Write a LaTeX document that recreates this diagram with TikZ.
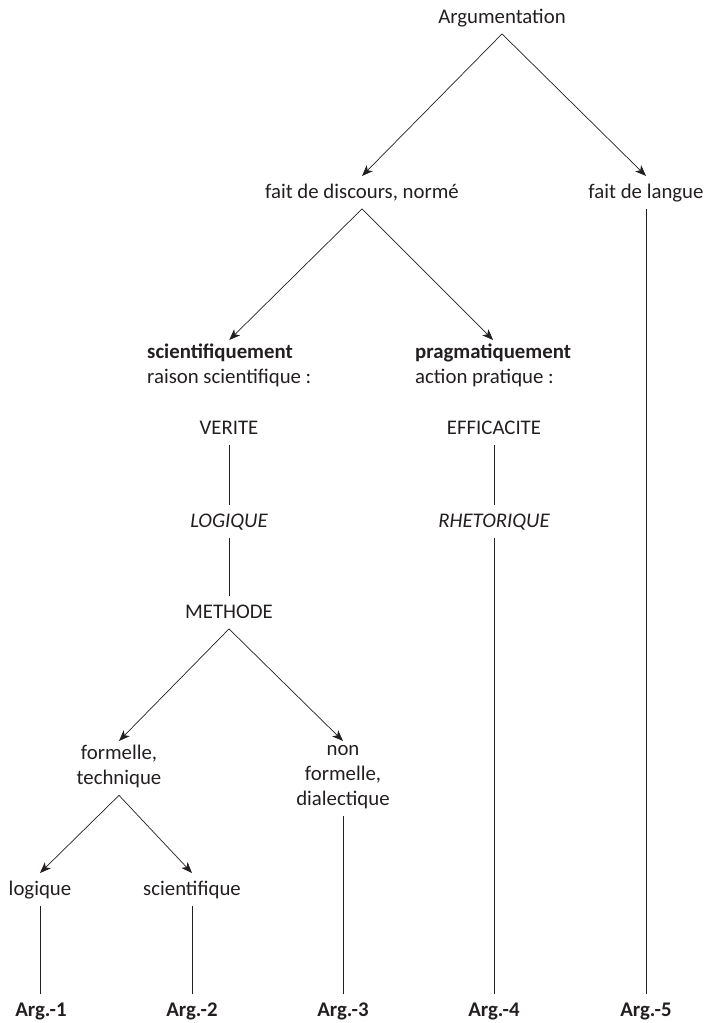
\documentclass[tikz,border=0pt]{standalone}
\usepackage{fontspec}
\setmainfont{Carlito}
\usepackage{tikz}
\usetikzlibrary{arrows.meta, positioning, calc}

\definecolor{ink}{RGB}{35,31,32}
\newcommand{\stl}{\rule[-6.5pt]{0pt}{24.5pt}}

\tikzset{
  lbl/.style={inner xsep=0pt, inner ysep=4pt, anchor=north, align=center, text=ink,
    font=\fontsize{20.8}{25}\selectfont,
    execute at begin node=\stl, execute at end node=\stl},
  lft/.style={lbl, anchor=north west, align=left},
  argbox/.style={lbl, font=\fontsize{20.8}{25}\selectfont\bfseries},
  arr/.style={draw=ink, -{Stealth[length=11pt, width=8.5pt, inset=3pt]}, line width=0.7pt},
  ln/.style={draw=ink, line width=0.7pt}
}

\begin{document}
\begin{tikzpicture}[x=1pt, y=-1pt]
  \useasboundingbox (0,0) rectangle (706,1023);
  % top
  \node[lbl] (arg) at (502,1) {Argumentation};
  \node[lbl] (discours) at (362,176) {fait de discours, normé};
  \node[lbl] (langue) at (646,176) {fait de langue};
  \node[lft] (sci) at (147,340) {\textbf{scientifiquement}\\raison scientifique :};
  \node[lft] (prag) at (415,340) {\textbf{pragmatiquement}\\action pratique :};
  % valeurs
  \node[lbl] (verite) at (229,412) {VERITE};
  \node[lbl] (effic) at (494,412) {EFFICACITE};
  \node[lbl] (logiq) at (229,505) {\itshape LOGIQUE};
  \node[lbl] (rhet) at (494,505) {\itshape RHETORIQUE};
  \node[lbl] (methode) at (229,596) {METHODE};
  \node[lbl] (formelle) at (119,741) {formelle,\\technique};
  \node[lbl] (nonform) at (343,741) {non\\formelle,\\dialectique};
  \node[lbl] (logique) at (40,873) {logique};
  \node[lbl] (scient) at (192,873) {scientifique};
  % arguments
  \foreach \i/\x in {1/41, 2/192, 3/343, 4/494, 5/646}
    \node[argbox] (arg\i) at (\x,994) {Arg.-\i};

  % branches
  \foreach \a/\b in {arg/discours, arg/langue, discours/sci, discours/prag,
      methode/formelle, methode/nonform, formelle/logique, formelle/scient}
    \draw[arr] (\a.south) -- (\b.north);
  % chains
  \draw[ln] (verite.south) -- (logiq.north);
  \draw[ln] (logiq.south) -- (methode.north);
  \draw[ln] (effic.south) -- (rhet.north);
  \foreach \a/\b in {rhet/arg4, langue/arg5, nonform/arg3, logique/arg1, scient/arg2}
    \draw[ln] (\a.south) -- (\a.south |- \b.north);
\end{tikzpicture}
\end{document}
